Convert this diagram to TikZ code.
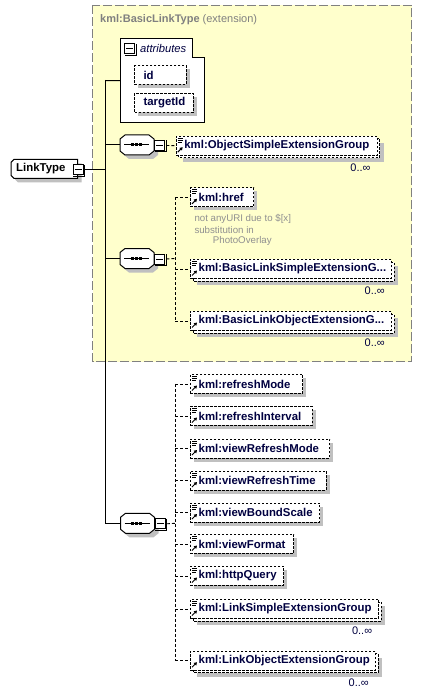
\documentclass[tikz,border=0pt]{standalone}
\usepackage{fontspec}
\setmainfont{Liberation Sans}
\usetikzlibrary{arrows.meta}
\definecolor{yel}{RGB}{255,255,204}
\definecolor{bordergray}{RGB}{128,128,128}
\definecolor{shad}{RGB}{192,192,192}
\definecolor{navy}{RGB}{0,0,64}
\definecolor{anngray}{RGB}{144,144,144}
\tikzset{
  ebox/.style={draw=black, dash pattern=on 2.5pt off 1.5pt, fill=white, line width=0.9pt, inner sep=0pt, minimum height=19pt},
  lbl/.style={font=\fontsize{11.4}{13}\selectfont\bfseries, text=navy, inner sep=0pt},
  mult/.style={font=\fontsize{11}{13}\selectfont, text=navy, inner sep=0pt},
  ann/.style={font=\fontsize{9.7}{11}\selectfont, text=anngray, inner sep=0pt},
  cdash/.style={line width=0.9pt, dash pattern=on 3pt off 2pt},
  solidc/.style={line width=1pt},
  minusbx/.style={draw, fill=white, line width=1pt, minimum size=10pt, inner sep=0pt},
  ghost/.style={inner sep=0pt, draw=none},
}
\newcommand\xlines[2]{\draw[line width=0.8pt] (#1+2,#2+2.5) -- (#1+7,#2+2.5) (#1+2,#2+4.5) -- (#1+7,#2+4.5) (#1+2,#2+6.5) -- (#1+6,#2+6.5);}
\newcommand\xarrow[2]{\draw[line width=1pt,-{Triangle[length=3pt,width=3.5pt]}] (#1+2,#2+16.5) -- (#1+7,#2+11.5);}
\newcommand\elemS[5]{%
  \fill[shad] (#2+4,#3+4) rectangle (#2+#4+4,#3+23);
  \node[ebox, minimum width=#4pt, anchor=north west] (#1) at (#2,#3) {};
  \xlines{#2}{#3}
  \xarrow{#2}{#3}
  \node[lbl, anchor=west] (#1t) at ([xshift=8.5pt]#1.west) {#5};
}
\newcommand\elemM[6]{%
  \fill[shad] (#2+7,#3+7) rectangle (#2+#4+7,#3+26);
  \draw[ebox] (#2+3,#3+3) rectangle (#2+#4+3,#3+22);
  \node[ebox, minimum width=#4pt, anchor=north west] (#1) at (#2,#3) {};
  \ifnum#6=1 \xlines{#2}{#3}\fi
  \xarrow{#2}{#3}
  \node[lbl, anchor=west] (#1t) at ([xshift=8.5pt]#1.west) {#5};
  \node[mult, anchor=east] (#1m) at (#2+#4-6,#3+32) {0..∞};
}
\newcommand\minusb[3]{%
  \node[minusbx, anchor=north west] (#1) at (#2,#3) {};
  \draw[line width=1pt] ([xshift=2pt]#1.west) -- ([xshift=-2pt]#1.east);
  \draw[line width=1pt] ([xshift=1pt,yshift=-0.5pt]#1.north east) -- ([xshift=1pt,yshift=-1pt]#1.south east) -- ([xshift=0.5pt,yshift=-1pt]#1.south west);
}
\newcommand\seqshape[3]{%
  \begin{scope}[shift={(4,4)}]
    \fill[shad] (#2,#3-6) -- (#2+5,#3-10) -- (#2+29,#3-10) -- (#2+34,#3-6) -- (#2+34,#3+6) -- (#2+29,#3+10) -- (#2+5,#3+10) -- (#2,#3+6) -- cycle;
  \end{scope}
  \draw[fill=white, line width=1pt] (#2,#3-6) -- (#2+5,#3-10) -- (#2+29,#3-10) -- (#2+34,#3-6) -- (#2+34,#3+6) -- (#2+29,#3+10) -- (#2+5,#3+10) -- (#2,#3+6) -- cycle;
  \node[ghost, minimum width=34pt, minimum height=20pt, anchor=west] (#1) at (#2,#3) {};
  \draw[line width=1pt] (#2+4,#3) -- (#2+29,#3);
  \fill (#2+10.5,#3-1.5) rectangle +(3,3);
  \fill (#2+14.5,#3-1.5) rectangle +(3,3);
  \fill (#2+18.5,#3-1.5) rectangle +(3,3);
}
\begin{document}
\begin{tikzpicture}[x=1pt,y=-1pt]
\useasboundingbox (0,0) rectangle (422,695);
\fill[white] (0,0) rectangle (422,695);
% extension box
\draw[fill=yel, draw=bordergray, line width=1pt, dash pattern=on 9pt off 3pt] (92.7,5.3) rectangle (411.7,361.7);
\node[anchor=west, inner sep=0pt, text=bordergray, font=\fontsize{11}{13}\selectfont] (title) at (100,19.3) {\textbf{kml:BasicLinkType} (extension)};
% attributes
\node[ghost, minimum width=84pt, minimum height=84.4pt, anchor=north west] (attrs) at (120.7,38.3) {};
\draw[fill=white, line width=1pt] (120.7,38.3) -- (192.7,38.3) -- (192.7,57.3) -- (204.7,57.3) -- (204.7,122.7) -- (120.7,122.7) -- cycle;
\minusb{am}{124}{43.3}
\node[anchor=west, inner sep=0pt, text=navy, font=\fontsize{11.2}{13}\selectfont\itshape] (attrt) at (140,48.3) {attributes};
\fill[shad] (138.3,69.3) rectangle (189.7,88);
\node[ebox, minimum width=51.4pt, minimum height=18.7pt, anchor=north west] (id) at (134.3,65.3) {};
\node[lbl, anchor=west] (idt) at ([xshift=9pt]id.west) {id};
\fill[shad] (138.3,96.7) rectangle (196.7,115.7);
\node[ebox, minimum width=58.4pt, anchor=north west] (tid) at (134.3,92.7) {};
\node[lbl, anchor=west] (tidt) at ([xshift=9pt]tid.west) {targetId};
% LinkType
\node[ghost, minimum width=66.7pt, minimum height=19pt, anchor=north west] (lt) at (11,159.3) {};
\begin{scope}[shift={(4,4)}]
\fill[shad] (14,159.3) -- (77.7,159.3) -- (77.7,178.3) -- (14,178.3) -- (11,175.3) -- (11,162.3) -- cycle;
\end{scope}
\draw[fill=white, line width=1pt] (14,159.3) -- (77.7,159.3) -- (77.7,178.3) -- (14,178.3) -- (11,175.3) -- (11,162.3) -- cycle;
\node[lbl, text=black, anchor=west] (ltt) at (16,169) {LinkType};
\minusb{ltm}{72.7}{164.3}
% sequences
\seqshape{seq1}{120}{145}
\minusb{m1}{154.3}{140}
\seqshape{seq2}{120}{258.5}
\minusb{m2}{154.3}{253.5}
\seqshape{seq3}{120.5}{523.3}
\minusb{m3}{154.8}{518.3}
% elements
\elemM{e0}{175.7}{135.7}{201}{kml:ObjectSimpleExtensionGroup}{1}
\elemS{href}{190}{187.3}{63.3}{kml:href}
\node[ann, anchor=west] (ann1) at (194.3,219) {not anyURI due to \$[x]};
\node[ann, anchor=west] (ann2) at (194.3,230) {substitution in};
\node[ann, anchor=west] (ann3) at (212.7,241) {PhotoOverlay};
\elemM{bls}{190}{259}{201}{kml:BasicLinkSimpleExtensionG...}{1}
\elemM{blo}{190}{311}{201}{kml:BasicLinkObjectExtensionG...}{0}
\elemS{r1}{190}{374}{112.3}{kml:refreshMode}
\elemS{r2}{190}{406}{121.7}{kml:refreshInterval}
\elemS{r3}{190}{438.5}{139.3}{kml:viewRefreshMode}
\elemS{r4}{190}{470.5}{136}{kml:viewRefreshTime}
\elemS{r5}{190}{502.5}{129.3}{kml:viewBoundScale}
\elemS{r6}{190}{534}{103.3}{kml:viewFormat}
\elemS{r7}{190}{566}{93.3}{kml:httpQuery}
\elemM{r8}{190}{599}{188.3}{kml:LinkSimpleExtensionGroup}{1}
\elemM{r9}{190}{650.7}{185}{kml:LinkObjectExtensionGroup}{0}
% trunk connectors
\coordinate (tt) at (105.3,80.5);
\coordinate (tb) at (105.3,523.3);
\draw[solidc] (tt) -- (tb);
\draw[solidc] ([xshift=0.5pt]ltm.east) -- (ltm.east -| tt);
\draw[solidc] (tt) -- (attrs.west);
\draw[solidc] (seq1.west -| tt) -- (seq1.west);
\draw[solidc] (seq2.west -| tt) -- (seq2.west);
\draw[solidc] (tb) -- (seq3.west);
% sequence 1
\draw[cdash] ([xshift=1pt]m1.east) -- (e0.west);
% sequence 2
\coordinate (b2) at (175,258.5);
\draw[cdash] ([xshift=1pt]m2.east) -- (b2);
\draw[cdash] (href.west -| b2) -- (blo.west -| b2);
\foreach \n in {href,bls,blo} \draw[cdash] (\n.west -| b2) -- (\n.west);
% sequence 3
\coordinate (b3) at (175,523.3);
\draw[cdash] ([xshift=1pt]m3.east) -- (b3);
\draw[cdash] (r1.west -| b3) -- (r9.west -| b3);
\foreach \n in {r1,r2,r3,r4,r5,r6,r7,r8,r9} \draw[cdash] (\n.west -| b3) -- (\n.west);
\end{tikzpicture}
\end{document}
